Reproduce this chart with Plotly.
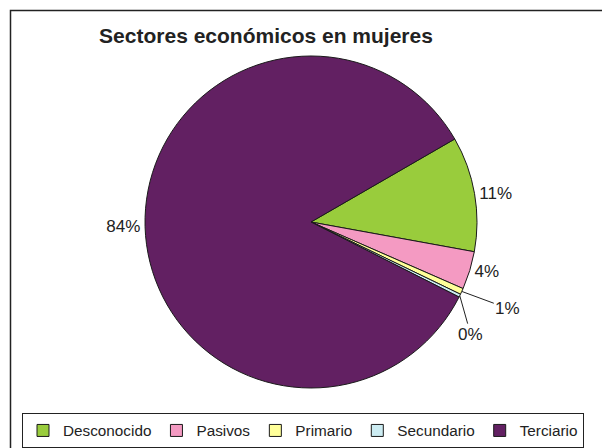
import math
import plotly.graph_objects as go

# Sector shares (percent) for women
sectors = ["Desconocido", "Pasivos", "Primario", "Secundario", "Terciario"]
shares = [11.2, 3.7, 0.6, 0.3, 84.2]
colors = ["#99CC3C", "#F49AC2", "#FFFF99", "#CCECF2", "#622062"]

W, H = 602, 448
FONT = "Liberation Sans, Arial, sans-serif"

# pie centre and radius in pixels, first slice angle (deg clockwise from 12 o'clock)
CX, CY, R = 311, 222, 166
ROTATION = 60

# thin slices get their label off to the side with a leader line
callout = {"Primario": (46, 17), "Secundario": (11, 39)}
positions = ["none" if s in callout else "outside" for s in sectors]

fig = go.Figure(go.Pie(
    labels=sectors,
    values=shares,
    sort=False,
    direction="clockwise",
    rotation=ROTATION,
    marker=dict(colors=colors, line=dict(color="#1a1a1a", width=1)),
    textposition=positions,
    texttemplate="%{percent:.0%}",
    textfont=dict(family=FONT, size=17, color="#222"),
    showlegend=True,
    hoverinfo="label+percent",
    domain=dict(x=[(CX - R) / W, (CX + R) / W], y=[1 - (CY + R) / H, 1 - (CY - R) / H]),
))

total = sum(shares)
annotations = []
cum = 0.0
for name, v in zip(sectors, shares):
    mid = math.radians(ROTATION + (cum + v / 2) / total * 360)
    cum += v
    if name not in callout:
        continue
    px = CX + R * math.sin(mid)
    py = CY - R * math.cos(mid)
    ax, ay = callout[name]
    annotations.append(dict(
        x=px / W, y=1 - py / H, xref="paper", yref="paper",
        text=f"{round(v / total * 100)}%",
        showarrow=True, arrowhead=0, arrowwidth=1, arrowcolor="#222",
        ax=ax, ay=ay,
        font=dict(family=FONT, size=17, color="#222"),
    ))

fig.update_layout(
    width=W, height=H,
    margin=dict(l=0, r=0, t=0, b=0),
    paper_bgcolor="white",
    plot_bgcolor="white",
    font=dict(family=FONT, color="#222"),
    title=dict(
        text="<b>Sectores económicos en mujeres</b>",
        font=dict(family=FONT, size=21, color="#222"),
        x=266 / W, xanchor="center",
        y=1 - 36 / H, yanchor="middle",
        xref="paper", yref="paper",
    ),
    legend=dict(
        orientation="h",
        xref="paper", yref="paper",
        x=22 / W, xanchor="left",
        y=1 - 413 / H, yanchor="top",
        font=dict(family=FONT, size=15.3, color="#222"),
        bordercolor="#222", borderwidth=1,
        bgcolor="white",
        itemwidth=30,
        traceorder="normal",
    ),
    annotations=annotations,
    shapes=[dict(
        type="rect", xref="paper", yref="paper",
        x0=10.5 / W, x1=1.05, y0=-0.05, y1=1 - 10.5 / H,
        line=dict(color="#222", width=1.5),
        fillcolor="rgba(0,0,0,0)",
        layer="below",
    )],
)

fig.write_html("out.html")
